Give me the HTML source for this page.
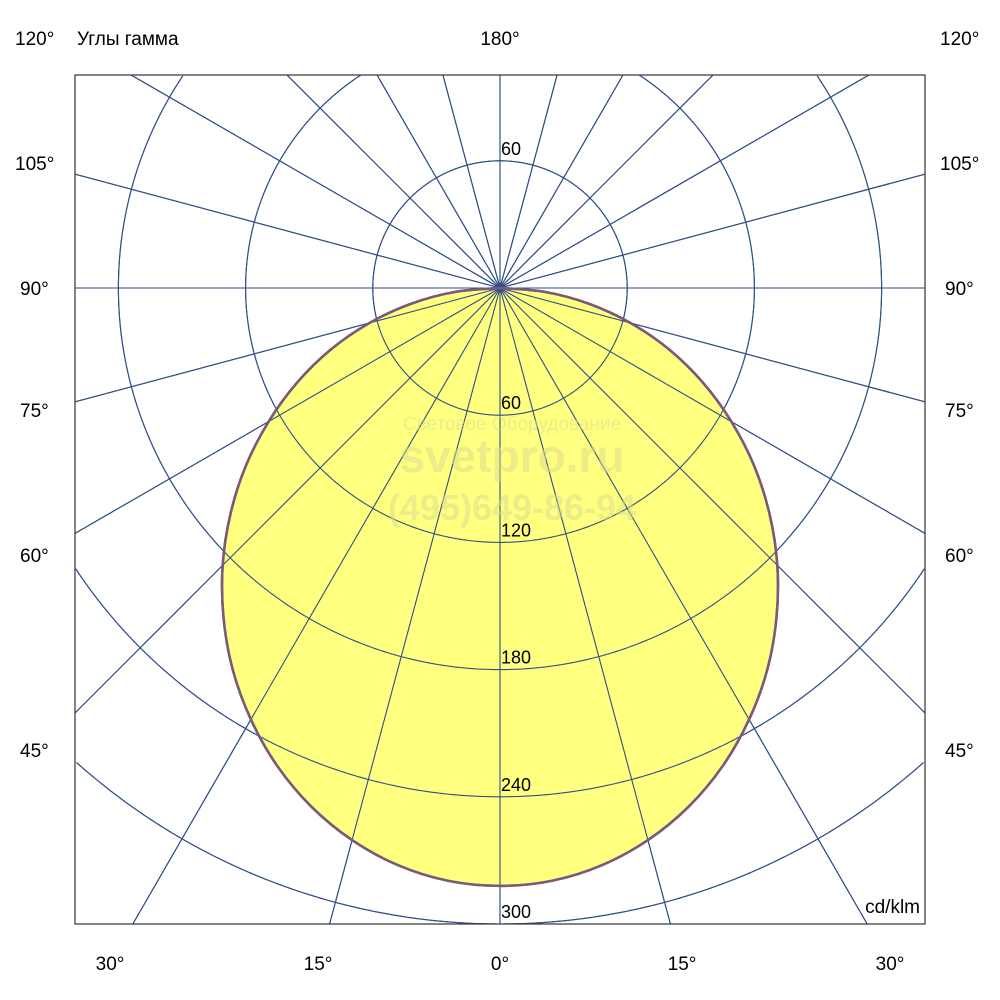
<!DOCTYPE html>
<html><head><meta charset="utf-8"><style>
html,body{margin:0;padding:0;background:#fff;width:1000px;height:1000px;overflow:hidden;position:relative}
svg{display:block;position:absolute;left:0;top:0}
text{font-family:"Liberation Sans",sans-serif;fill:#000}
</style></head><body>
<svg id="chart" width="1000" height="1000" viewBox="0 0 1000 1000">
<defs><clipPath id="clip"><rect x="75" y="75" width="850" height="849"/></clipPath></defs>
<g id="grid" clip-path="url(#clip)"></g>
<g id="curve" clip-path="url(#clip)"></g>
<g id="ringlabels"></g>
<rect x="75" y="75" width="850" height="849" fill="none" stroke="#333" stroke-width="1.2"/>
<g opacity="0.5">
<text x="512" y="430" text-anchor="middle" font-size="19" style="fill:#dada90">Световое Оборудование</text>
<text x="512" y="472" text-anchor="middle" font-size="46" font-weight="bold" style="fill:#dada90">svetpro.ru</text>
<text x="512" y="520" text-anchor="middle" font-size="36" font-weight="bold" style="fill:#dada90">(495)649-86-94</text>
</g>
<g font-size="19">
<text x="15" y="45">120°</text><text x="77" y="45">Углы гамма</text>
<text x="500" y="45" text-anchor="middle">180°</text><text x="940" y="45">120°</text>
<text x="15" y="170">105°</text><text x="940" y="170">105°</text>
<text x="20" y="295">90°</text><text x="945" y="295">90°</text>
<text x="20" y="417">75°</text><text x="945" y="417">75°</text>
<text x="20" y="562">60°</text><text x="945" y="562">60°</text>
<text x="20" y="757">45°</text><text x="945" y="757">45°</text>
<text x="110" y="970" text-anchor="middle">30°</text><text x="318" y="970" text-anchor="middle">15°</text>
<text x="500" y="970" text-anchor="middle">0°</text><text x="682" y="970" text-anchor="middle">15°</text>
<text x="890" y="970" text-anchor="middle">30°</text>
<text x="920" y="913" text-anchor="end">cd/klm</text>
</g>
</svg>
<script>
const angles=[0,5,10,15,20,25,30,35,40,45,50,55,60,65,70,75,80,85,90];
const intensity=[282,280.7,276.5,269.6,260.3,248.7,235,219.8,202.9,185,166,146.4,126,105.6,85,63.7,42.5,21.3,0];
const ringValues=[60,120,180,240,300,360,420,480];
const ringLabels=["60","120","180","240","300"];
const cx=500,cy=288,pxPer=127.2/60;
const X0=75,X1=925,Y0=75,Y1=924;
const NS="http://www.w3.org/2000/svg";
const rScale=v=>v*pxPer;
function pt(deg,v){const a=deg*Math.PI/180;return [cx+rScale(v)*Math.sin(a),cy+rScale(v)*Math.cos(a)];}
const inBox=p=>p[0]>=X0&&p[0]<=X1&&p[1]>=Y0&&p[1]<=Y1;
function ringPath(r){
  let d='',pen=false;
  for(let i=0;i<=1440;i++){const a=i/1440*2*Math.PI;const p=[cx+r*Math.sin(a),cy+r*Math.cos(a)];
    if(inBox(p)){d+=(pen?' L':' M')+p[0].toFixed(2)+','+p[1].toFixed(2);pen=true;}else pen=false;}
  return d;
}
function build(g,prefix){
  ringValues.forEach(v=>{const c=document.createElementNS(NS,'path');
    c.setAttribute('d',ringPath(rScale(v)));
    c.setAttribute('fill','none');c.setAttribute('stroke','#2f4f85');c.setAttribute('stroke-width','1.1');
    
    
    g.appendChild(c);});
  for(let dg=0;dg<360;dg+=15){const a=dg*Math.PI/180,sx=Math.sin(a),sy=Math.cos(a);
    let t=1e9;
    if(sx>1e-9)t=Math.min(t,(X1-cx)/sx); if(sx<-1e-9)t=Math.min(t,(X0-cx)/sx);
    if(sy>1e-9)t=Math.min(t,(Y1-cy)/sy); if(sy<-1e-9)t=Math.min(t,(Y0-cy)/sy);
    const l=document.createElementNS(NS,'line');
    l.setAttribute('x1',cx);l.setAttribute('y1',cy);l.setAttribute('x2',cx+t*sx);l.setAttribute('y2',cy+t*sy);
    l.setAttribute('stroke','#2f4f85');l.setAttribute('stroke-width','1.1');
    
    
    g.appendChild(l);}
}
const grid=document.getElementById('grid');
build(grid,'');
let pts=[];
for(let i=angles.length-1;i>=0;i--)pts.push(pt(-angles[i],intensity[i]));
for(let i=1;i<angles.length;i++)pts.push(pt(angles[i],intensity[i]));
let d='M'+pts[0][0]+','+pts[0][1];
for(let i=0;i<pts.length-1;i++){const p0=pts[Math.max(0,i-1)],p1=pts[i],p2=pts[i+1],p3=pts[Math.min(pts.length-1,i+2)];
d+=' C'+(p1[0]+(p2[0]-p0[0])/6)+','+(p1[1]+(p2[1]-p0[1])/6)+' '+(p2[0]-(p3[0]-p1[0])/6)+','+(p2[1]-(p3[1]-p1[1])/6)+' '+p2[0]+','+p2[1];}
d+='Z';
const path=document.createElementNS(NS,'path');
path.setAttribute('d',d);path.setAttribute('fill','#ffff80');path.setAttribute('stroke','#7a5a78');path.setAttribute('stroke-width','2.5');


const cg=document.getElementById('curve');cg.appendChild(path);
const g2=document.createElementNS(NS,'g');


build(g2,'overlay-');
cg.appendChild(g2);
const path2=path.cloneNode();path2.setAttribute('fill','none');

cg.appendChild(path2);
const rl=document.getElementById('ringlabels');
ringLabels.forEach((s,i)=>{const t=document.createElementNS(NS,'text');
t.setAttribute('x',cx+1);t.setAttribute('y',cy+rScale(ringValues[i])-6);t.setAttribute('font-size','18');
t.textContent=s;


rl.appendChild(t);});
const t=document.createElementNS(NS,'text');t.setAttribute('x',cx+1);t.setAttribute('y',cy-rScale(60)-6);t.setAttribute('font-size','18');t.textContent=ringLabels[0];


rl.appendChild(t);
</script>
</body></html>
